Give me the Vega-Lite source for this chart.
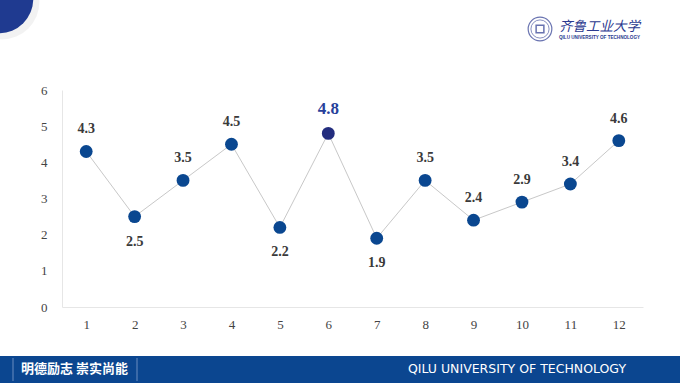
{
  "$schema": "https://vega.github.io/schema/vega-lite/v6.json",
  "width": 581,
  "height": 217,
  "autosize": "none",
  "padding": {"left": 62, "top": 90, "right": 37, "bottom": 76},
  "background": "white",
  "config": {"view": {"stroke": null}},
  "datasets": {
    "series": [
      {"month": 1, "value": 4.3},
      {"month": 2, "value": 2.5},
      {"month": 3, "value": 3.5},
      {"month": 4, "value": 4.5},
      {"month": 5, "value": 2.2},
      {"month": 6, "value": 4.8},
      {"month": 7, "value": 1.9},
      {"month": 8, "value": 3.5},
      {"month": 9, "value": 2.4},
      {"month": 10, "value": 2.9},
      {"month": 11, "value": 3.4},
      {"month": 12, "value": 4.6}
    ],
    "motto": [{"label": "明德励志 崇实尚能"}],
    "english": [{"label": "QILU UNIVERSITY OF TECHNOLOGY"}],
    "logo": [{"label": "齐鲁工业大学"}]
  },
  "layer": [
    {
      "data": {"name": "series"},
      "mark": {"type": "line", "color": "#c8c8c8", "strokeWidth": 1},
      "encoding": {
        "x": {
          "field": "month", "type": "ordinal",
          "axis": {
            "title": null, "labelAngle": 0, "ticks": false, "domainColor": "#e6e6e6",
            "labelFont": "Liberation Serif, serif", "labelFontSize": 13, "labelColor": "#444", "labelPadding": 11, "grid": false
          }
        },
        "y": {
          "field": "value", "type": "quantitative",
          "scale": {"domain": [0, 6]},
          "axis": {
            "title": null, "tickCount": 6, "ticks": false, "grid": false, "domainColor": "#e6e6e6",
            "labelFont": "Liberation Serif, serif", "labelFontSize": 13, "labelColor": "#444", "labelPadding": 15
          }
        }
      }
    },
    {
      "data": {"name": "series"},
      "mark": {"type": "circle", "size": 165, "opacity": 1},
      "encoding": {
        "x": {"field": "month", "type": "ordinal"},
        "y": {"field": "value", "type": "quantitative"},
        "color": {
          "condition": {"test": "datum.month == 6", "value": "#232d7e"},
          "value": "#0a4790"
        }
      }
    },
    {
      "data": {"name": "series"},
      "transform": [{"filter": {"field": "month", "oneOf": [1, 3, 4, 8, 9, 10, 11, 12]}}],
      "mark": {"type": "text", "dy": -22, "font": "Liberation Serif, serif", "fontWeight": "bold", "fontSize": 14, "color": "#3a3a3a"},
      "encoding": {
        "x": {"field": "month", "type": "ordinal"},
        "y": {"field": "value", "type": "quantitative"},
        "text": {"field": "value", "type": "quantitative", "format": ".1f"}
      }
    },
    {
      "data": {"name": "series"},
      "transform": [{"filter": {"field": "month", "oneOf": [2, 5, 7]}}],
      "mark": {"type": "text", "dy": 25, "font": "Liberation Serif, serif", "fontWeight": "bold", "fontSize": 14, "color": "#3a3a3a"},
      "encoding": {
        "x": {"field": "month", "type": "ordinal"},
        "y": {"field": "value", "type": "quantitative"},
        "text": {"field": "value", "type": "quantitative", "format": ".1f"}
      }
    },
    {
      "data": {"name": "series"},
      "transform": [{"filter": {"field": "month", "equal": 6}}],
      "mark": {"type": "text", "dy": -24, "font": "Liberation Serif, serif", "fontWeight": "bold", "fontSize": 17, "color": "#27409a"},
      "encoding": {
        "x": {"field": "month", "type": "ordinal"},
        "y": {"field": "value", "type": "quantitative"},
        "text": {"field": "value", "type": "quantitative", "format": ".1f"}
      }
    },
    {
      "data": {"name": "motto"},
      "mark": {"type": "rect", "color": "#0b4690"},
      "encoding": {
        "x": {"value": -62}, "x2": {"value": 618},
        "y": {"value": 266}, "y2": {"value": 293}
      }
    },
    {
      "data": {"name": "motto"},
      "mark": {"type": "rule", "color": "#6a8cc0", "strokeWidth": 1},
      "encoding": {
        "x": {"value": -49},
        "y": {"value": 268}, "y2": {"value": 291}
      }
    },
    {
      "data": {"name": "motto"},
      "mark": {"type": "rule", "color": "#6a8cc0", "strokeWidth": 1},
      "encoding": {
        "x": {"value": 75},
        "y": {"value": 268}, "y2": {"value": 291}
      }
    },
    {
      "data": {"name": "motto"},
      "mark": {"type": "text", "align": "left", "baseline": "middle", "font": "Noto Sans CJK SC", "fontWeight": "bold", "fontSize": 13, "color": "white"},
      "encoding": {
        "x": {"value": -41}, "y": {"value": 279},
        "text": {"field": "label"}
      }
    },
    {
      "data": {"name": "english"},
      "mark": {"type": "text", "align": "center", "baseline": "middle", "font": "DejaVu Sans", "fontSize": 12.5, "color": "white"},
      "encoding": {
        "x": {"value": 455}, "y": {"value": 279},
        "text": {"field": "label"}
      }
    },
    {
      "data": {"name": "motto"},
      "mark": {"type": "circle", "size": 5600, "color": "#000", "opacity": 0.05},
      "encoding": {"x": {"value": -60}, "y": {"value": -88}}
    },
    {
      "data": {"name": "motto"},
      "mark": {"type": "circle", "size": 4700, "color": "#1f3a90", "opacity": 1},
      "encoding": {"x": {"value": -63}, "y": {"value": -91}}
    },
    {
      "data": {"name": "logo"},
      "mark": {"type": "point", "shape": "circle", "size": 560, "color": "#2b3990", "strokeWidth": 1.2, "filled": false},
      "encoding": {"x": {"value": 478}, "y": {"value": -61}}
    },
    {
      "data": {"name": "logo"},
      "mark": {"type": "point", "shape": "circle", "size": 330, "color": "#2b3990", "strokeWidth": 0.8, "filled": false},
      "encoding": {"x": {"value": 478}, "y": {"value": -61}}
    },
    {
      "data": {"name": "logo"},
      "mark": {"type": "point", "shape": "square", "size": 60, "color": "#2b3990", "strokeWidth": 1.5, "filled": false},
      "encoding": {"x": {"value": 478}, "y": {"value": -61}}
    },
    {
      "data": {"name": "logo"},
      "mark": {"type": "text", "align": "left", "baseline": "middle", "font": "Noto Sans CJK SC", "fontSize": 13.5, "fontStyle": "italic", "color": "#2b3990"},
      "encoding": {"x": {"value": 497}, "y": {"value": -63}, "text": {"field": "label"}}
    },
    {
      "data": {"name": "english"},
      "mark": {"type": "text", "align": "left", "baseline": "middle", "font": "Liberation Sans", "fontSize": 4.6, "fontWeight": "bold", "color": "#2b3990"},
      "encoding": {"x": {"value": 497}, "y": {"value": -52}, "text": {"field": "label"}}
    }
  ]
}
